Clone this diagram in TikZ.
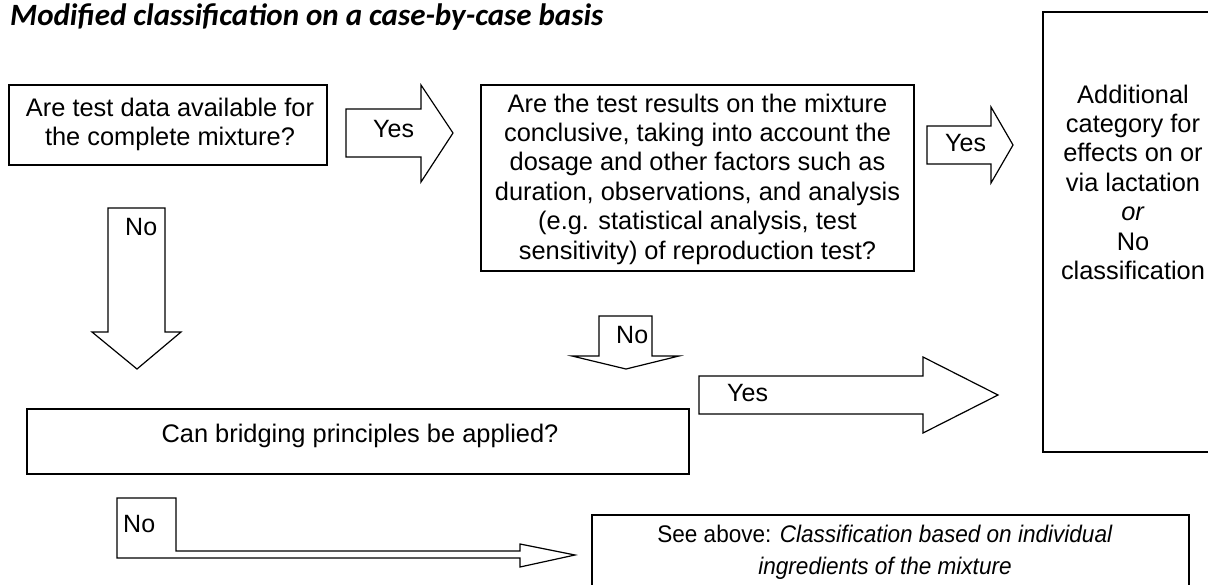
\documentclass[tikz,border=0pt]{standalone}
\usepackage{fontspec}
\setmainfont{Liberation Sans}
\newfontfamily\titlefont{Carlito}
\begin{document}
\begin{tikzpicture}[x=1pt,y=-1pt,
  box/.style={draw, line width=1.5pt, inner sep=0pt},
  blk/.style={draw, line width=1.2pt, line join=miter, fill=white},
  txt/.style={inner sep=0pt, font=\fontsize{25.4}{29.4}\selectfont, align=center},
  lbl/.style={inner sep=0pt, anchor=base west, font=\fontsize{25}{29.4}\selectfont}]
\useasboundingbox (0,0) rectangle (1208,584);
\clip (0,0) rectangle (1208,584);
% title
\node[anchor=base west, inner sep=0pt, font=\titlefont\bfseries\itshape\fontsize{31}{36}\selectfont] (title) at (10,25) {Modified classification on a case-by-case basis};
% boxes
\node[box, minimum width=318pt, minimum height=80pt] (b1) at (168,125) {};
\node[box, minimum width=433pt, minimum height=186pt] (b2) at (697.5,178) {};
\node[box, minimum width=180pt, minimum height=440pt] (b3) at (1133,232) {};
\node[box, minimum width=662pt, minimum height=65pt] (b4) at (358,441.5) {};
\node[box, minimum width=597pt, minimum height=85pt] (b5) at (890.5,557.5) {};
% box texts
\node[txt, anchor=north] (t1) at (170,95.4) {\strut Are test data available for\\the complete mixture?};
\node[txt, anchor=north] (t2) at (697.5,91.4) {\strut Are the test results on the mixture\\conclusive, taking into account the\\dosage and other factors such as\\duration, observations, and analysis\\(e.g. statistical analysis, test\\sensitivity) of reproduction test?};
\node[txt, anchor=north] (t3) at (1133,82.4) {\strut Additional\\category for\\effects on or\\via lactation\\\textit{or}\\No\\classification};
\node[txt, anchor=base] (t4) at (360,442) {Can bridging principles be applied?};
\node[inner sep=0pt, anchor=north, align=center, font=\fontsize{24}{32}\selectfont] (t5) at (885,519.6) {\scalebox{0.94}[1]{\strut See above: \textit{Classification based on individual}}\\\scalebox{0.94}[1]{\textit{ingredients of the mixture}}};
% block arrows
\draw[blk] (346,109) -- (421,109) -- (421,85) -- (453,133) -- (421,182) -- (421,157) -- (346,157) -- cycle;
\node[lbl] (y1) at (373,137) {Yes};
\draw[blk] (927,126) -- (991,126) -- (991,107) -- (1013,145) -- (991,183) -- (991,164) -- (927,164) -- cycle;
\node[lbl] (y2) at (945,151) {Yes};
\draw[blk] (108,208) -- (165,208) -- (165,332) -- (181,332) -- (137,369) -- (92,332) -- (108,332) -- cycle;
\node[lbl] (n1) at (125,235) {No};
\draw[blk] (599,316) -- (652,316) -- (652,356) -- (679,356) -- (626,369) -- (572,356) -- (599,356) -- cycle;
\node[lbl] (n2) at (616,343) {No};
\draw[blk] (699,376) -- (923,376) -- (923,357) -- (998,395) -- (923,433) -- (923,414) -- (699,414) -- cycle;
\node[lbl] (y3) at (727,401) {Yes};
\draw[blk] (117,498) -- (176,498) -- (176,551) -- (520,551) -- (520,544) -- (575,555) -- (520,567) -- (520,558) -- (117,558) -- cycle;
\node[lbl] (n3) at (123,532) {No};
\end{tikzpicture}
\end{document}
